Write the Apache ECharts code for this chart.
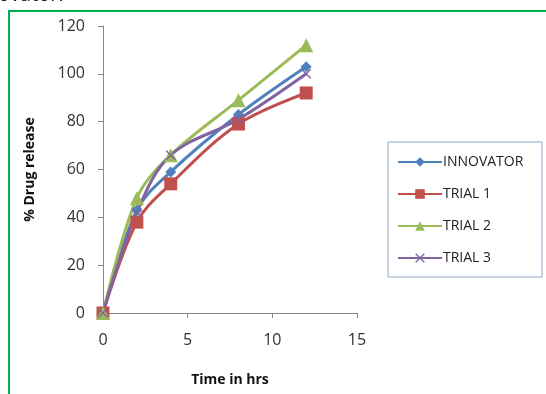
<!DOCTYPE html>
<html>
<head>
<meta charset="utf-8">
<script src="https://cdn.jsdelivr.net/npm/echarts@6/dist/echarts.min.js"></script>
<style>
  html, body { margin: 0; padding: 0; background: #fff; }
  #chart { width: 546px; height: 394px; }
</style>
</head>
<body>
<div id="chart"></div>
<script>
// time points (hrs) and % drug release
const hours = [0, 2, 4, 8, 12]
const innovator = [0, 43, 59, 83, 103]
const trial1 = [0, 38, 54, 79, 92]
const trial2 = [0, 48, 66, 89, 112]
const trial3 = [0, 42, 66, 81, 100]
const yTicks = [0, 20, 40, 60, 80, 100, 120]
const xTicks = [0, 5, 10, 15]

const font = '"Open Sans", sans-serif'
const xSymbol = 'path://M0,1L1,0L5,4L9,0L10,1L6,5L10,9L9,10L5,6L1,10L0,9L4,5Z'

const pairs = arr => hours.map((h, i) => [h, arr[i]])

const chart = echarts.init(document.getElementById('chart'))

const mkSeries = (name, data, color, symbol, size) => ({
  name,
  type: 'line',
  data: pairs(data),
  smooth: 0.35,
  symbol,
  symbolSize: size,
  lineStyle: { width: 3, color },
  itemStyle: { color },
  z: 3,
})

chart.setOption({
  animation: false,
  textStyle: { fontFamily: font },
  graphic: [
    {
      type: 'rect',
      shape: { x: 9, y: 11, width: 560, height: 400 },
      style: { fill: 'none', stroke: '#00B050', lineWidth: 2 },
      silent: true,
    },
    {
      type: 'text',
      left: -2,
      top: -15,
      style: { text: 'ovator.', font: '20px ' + font, fill: '#222' },
      silent: true,
    },
    {
      type: 'rect',
      shape: { x: 388, y: 142, width: 154, height: 135 },
      style: { fill: 'none', stroke: '#8EA9C8', lineWidth: 1 },
      silent: true,
    },
  ],
  legend: {
    orient: 'vertical',
    left: 392,
    top: 150,
    itemGap: 18,
    itemWidth: 44,
    itemHeight: 12,
    textStyle: { fontSize: 14, color: '#222', fontFamily: font, padding: [0, 0, 0, -4] },
    data: ['INNOVATOR', 'TRIAL 1', 'TRIAL 2', 'TRIAL 3'],
  },
  grid: { left: 103, right: 189, top: 26, bottom: 81 },
  xAxis: {
    type: 'value',
    min: 0,
    max: 15,
    interval: 5,
    name: 'Time in hrs',
    nameLocation: 'middle',
    nameGap: 60,
    nameTextStyle: { fontSize: 14, fontWeight: 'bold', color: '#111', fontFamily: font },
    axisLine: { lineStyle: { color: '#888', width: 1 } },
    axisTick: { show: true, length: 5, lineStyle: { color: '#888' } },
    axisLabel: { fontSize: 16, color: '#333', margin: 19, formatter: v => xTicks.includes(v) ? String(v) : '' },
    splitLine: { show: false },
  },
  yAxis: {
    type: 'value',
    min: 0,
    max: 120,
    interval: 20,
    name: '% Drug release',
    nameLocation: 'middle',
    nameGap: 66,
    nameTextStyle: { fontSize: 14, fontWeight: 'bold', color: '#111', fontFamily: font },
    axisLine: { show: true, lineStyle: { color: '#888', width: 1 } },
    axisTick: { show: true, length: 5, lineStyle: { color: '#888' } },
    axisLabel: { fontSize: 16, color: '#333', margin: 18, formatter: v => yTicks.includes(v) ? String(v) : '' },
    splitLine: { show: false },
  },
  series: [
    mkSeries('INNOVATOR', innovator, '#4F81BD', 'diamond', 11),
    mkSeries('TRIAL 1', trial1, '#C0504D', 'rect', 13),
    mkSeries('TRIAL 2', trial2, '#9BBB59', 'triangle', 14),
    mkSeries('TRIAL 3', trial3, '#8064A2', xSymbol, 10),
  ],
})
</script>
</body>
</html>
